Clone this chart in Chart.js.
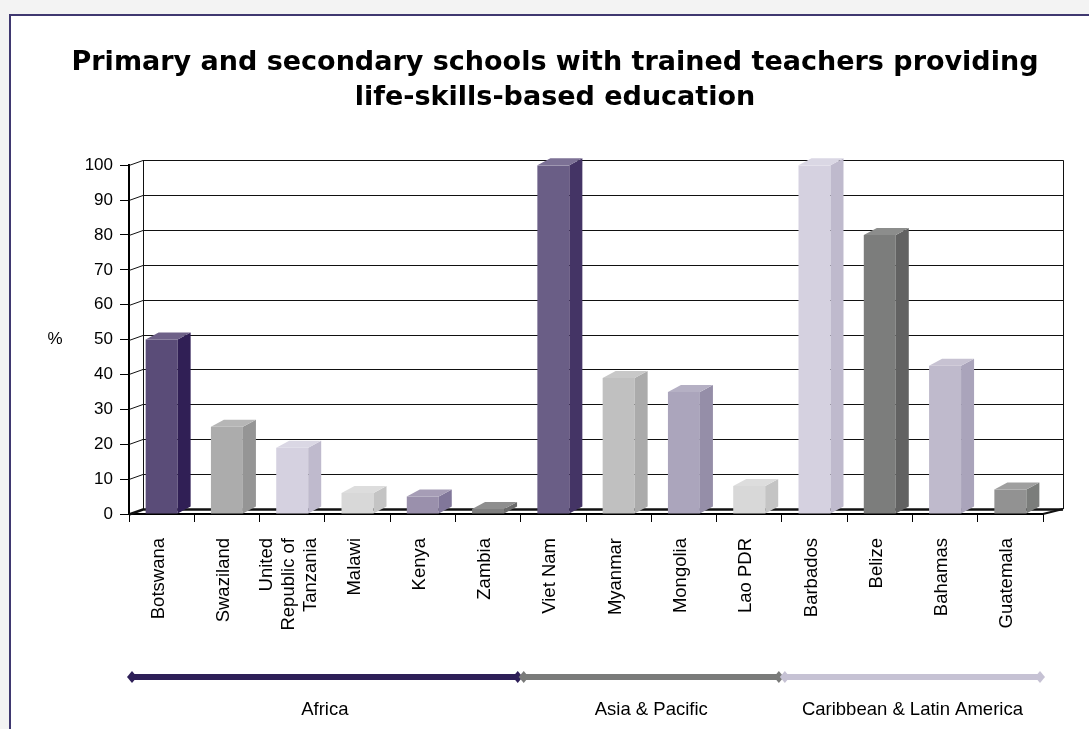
<!DOCTYPE html>
<html>
<head>
<meta charset="utf-8">
<script src="https://cdn.jsdelivr.net/npm/chart.js@4.4.1/dist/chart.umd.min.js"></script>
<style>
    body { margin: 0; background: #f3f3f3; overflow: hidden; }
    #frame { position: absolute; left: 9px; top: 14px; width: 1100px; height: 740px;
             background: #ffffff; border-left: 2px solid #3f3870; border-top: 2px solid #3f3870; }
    #wrap { position: absolute; left: 0; top: 0; width: 1089px; height: 729px; }
</style>
</head>
<body>
<div id="frame"></div>
<div id="wrap"><canvas id="schoolsChart" width="1089" height="729"></canvas></div>
<script>
// Data
const categories = ['Botswana', 'Swaziland', ['United', 'Republic of', 'Tanzania'], 'Malawi', 'Kenya', 'Zambia',
    'Viet Nam', 'Myanmar', 'Mongolia', 'Lao PDR', 'Barbados', 'Belize', 'Bahamas', 'Guatemala'];
const percentValues = [50, 25, 19, 6, 5, 1.4, 100, 39, 35, 8, 100, 80, 42.5, 7];
const yMin = 0;
const yMax = 100;
const yStep = 10;

// Region bands under the axis (index of first and last country)
const regionNames = ['Africa', 'Asia & Pacific', 'Caribbean & Latin America'];
const regionFirst = [0, 6, 10];
const regionLast = [5, 9, 13];

const titleLines = ['Primary and secondary schools with trained teachers providing', 'life-skills-based education'];

// Styles
const frontColors = ['#5a4c78', '#acacac', '#d5d1e0', '#d8d8d8', '#9a90ac', '#7f7f7f', '#6a5e86',
    '#c0c0c0', '#aba5bc', '#d8d8d8', '#d5d1e0', '#7c7d7c', '#bfbacc', '#929292'];
const sideColors = ['#301f55', '#959595', '#bfbacd', '#c4c4c4', '#81779a', '#6a6a6a', '#443465',
    '#ababab', '#958ea8', '#c4c4c4', '#bfbacd', '#626262', '#aaa4bb', '#7b7d7b'];
const regionColors = ['#2e1f58', '#7a7b7a', '#c6c2d4'];

const WALL_DX_LEFT = 14, WALL_DX_RIGHT = 20, WALL_DY = 5;
const BAR_DX = 13, BAR_DY = 7;
const LABEL_FONT = '18.5px "Liberation Sans", Arial, sans-serif';

function lighten(hex, k) {
    const n = parseInt(hex.slice(1), 16);
    const c = [(n >> 16) & 255, (n >> 8) & 255, n & 255].map(v => Math.round(v + (255 - v) * k));
    return `rgb(${c[0]},${c[1]},${c[2]})`;
}

// Back wall, floor and grid lines (behind the bars), bar sides/tops, labels
const wallPlugin = {
    id: 'wall3d',
    beforeDatasetsDraw(chart) {
        const { ctx, chartArea: a, scales: { y } } = chart;
        ctx.save();
        ctx.strokeStyle = '#111';
        for (let v = yMin; v <= yMax; v += yStep) {
            const yf = Math.round(y.getPixelForValue(v)) + 0.5;
            const yb = yf - WALL_DY;
            ctx.lineWidth = v === yMin ? 2.5 : 1;
            ctx.beginPath();
            ctx.moveTo(a.left, yf);
            ctx.lineTo(a.left + WALL_DX_LEFT, yb);
            ctx.lineTo(a.right + WALL_DX_RIGHT, yb);
            ctx.stroke();
        }
        ctx.lineWidth = 1;
        const top = y.getPixelForValue(yMax) - WALL_DY;
        const bot = y.getPixelForValue(yMin) - WALL_DY;
        ctx.beginPath();
        ctx.moveTo(a.left + WALL_DX_LEFT + 0.5, top);
        ctx.lineTo(a.left + WALL_DX_LEFT + 0.5, bot);
        ctx.moveTo(a.right + WALL_DX_RIGHT + 0.5, top);
        ctx.lineTo(a.right + WALL_DX_RIGHT + 0.5, bot);
        ctx.stroke();
        ctx.lineWidth = 2;
        ctx.beginPath();
        ctx.moveTo(a.right, a.bottom);
        ctx.lineTo(a.right + WALL_DX_RIGHT, a.bottom - WALL_DY);
        ctx.stroke();
        ctx.restore();
    },
    afterDatasetsDraw(chart) {
        const { ctx } = chart;
        const meta = chart.getDatasetMeta(0);
        ctx.save();
        meta.data.forEach((bar, i) => {
            const p = bar.getProps(['x', 'y', 'base', 'width'], true);
            const l = p.x - p.width / 2, r = p.x + p.width / 2;
            // side face
            ctx.fillStyle = sideColors[i];
            ctx.beginPath();
            ctx.moveTo(r, p.y);
            ctx.lineTo(r + BAR_DX, p.y - BAR_DY);
            ctx.lineTo(r + BAR_DX, p.base - BAR_DY);
            ctx.lineTo(r, p.base);
            ctx.closePath();
            ctx.fill();
            // top face
            ctx.fillStyle = lighten(frontColors[i], 0.12);
            ctx.beginPath();
            ctx.moveTo(l, p.y);
            ctx.lineTo(l + BAR_DX, p.y - BAR_DY);
            ctx.lineTo(r + BAR_DX, p.y - BAR_DY);
            ctx.lineTo(r, p.y);
            ctx.closePath();
            ctx.fill();
        });
        ctx.restore();
    },
    afterDraw(chart) {
        const { ctx, chartArea: a, scales: { x } } = chart;
        ctx.save();
        // y axis unit label
        ctx.fillStyle = '#000';
        ctx.font = '17px "Liberation Sans", Arial, sans-serif';
        ctx.textAlign = 'center';
        ctx.textBaseline = 'middle';
        ctx.fillText('%', 55, (a.top + a.bottom) / 2);

        // rotated category labels, multi-line ones centred on their category
        ctx.font = LABEL_FONT;
        const lh = 22;
        categories.forEach((cat, i) => {
            const lines = Array.isArray(cat) ? cat : [cat];
            ctx.save();
            ctx.translate(x.getPixelForValue(i) - 3, a.bottom + 24);
            ctx.rotate(-Math.PI / 2);
            ctx.textAlign = 'right';
            ctx.textBaseline = 'middle';
            lines.forEach((line, j) => ctx.fillText(line, 0, (j - (lines.length - 1) / 2) * lh));
            ctx.restore();
        });

        // region bands
        const step = (x.right - x.left) / categories.length;
        const lineY = a.bottom + 163;
        const labelY = a.bottom + 196;
        ctx.textAlign = 'center';
        ctx.textBaseline = 'middle';
        regionNames.forEach((name, i) => {
            const x0 = x.getPixelForValue(regionFirst[i]) - step / 2;
            const x1 = x.getPixelForValue(regionLast[i]) + step / 2;
            ctx.strokeStyle = regionColors[i];
            ctx.fillStyle = regionColors[i];
            ctx.lineWidth = 6;
            ctx.beginPath();
            ctx.moveTo(x0 + 3, lineY);
            ctx.lineTo(x1 - 3, lineY);
            ctx.stroke();
            [x0 + 3, x1 - 3].forEach(cx => {
                ctx.beginPath();
                ctx.moveTo(cx - 5, lineY);
                ctx.lineTo(cx, lineY - 6);
                ctx.lineTo(cx + 5, lineY);
                ctx.lineTo(cx, lineY + 6);
                ctx.closePath();
                ctx.fill();
            });
            ctx.fillStyle = '#000';
            ctx.font = LABEL_FONT;
            ctx.fillText(name, (x0 + x1) / 2, labelY);
        });
        ctx.restore();
    }
};

Chart.defaults.font.family = '"Liberation Sans", Arial, sans-serif';
Chart.defaults.color = '#000';

const ctx = document.getElementById('schoolsChart').getContext('2d');
const chart = new Chart(ctx, {
    type: 'bar',
    data: {
        labels: categories,
        datasets: [{
            label: '%',
            data: percentValues,
            backgroundColor: frontColors,
            borderWidth: 0,
            barPercentage: 0.49,
            categoryPercentage: 1
        }]
    },
    options: {
        responsive: false,
        animation: false,
        devicePixelRatio: 1,
        layout: { padding: { left: 67, right: 46, top: 0, bottom: 0 } },
        plugins: {
            legend: { display: false },
            tooltip: { enabled: false },
            title: {
                display: true,
                text: titleLines,
                color: '#000',
                font: { family: '"DejaVu Sans", sans-serif', weight: 'bold', size: 27, lineHeight: 1.3 },
                padding: { top: 45, bottom: 50 }
            }
        },
        scales: {
            x: {
                grid: { display: true, drawOnChartArea: false, drawTicks: true, tickLength: 8, color: '#000', offset: true },
                border: { display: true, color: '#000', width: 2 },
                ticks: { display: false, autoSkip: false },
                afterFit(scale) { scale.height = 215; }
            },
            y: {
                min: yMin,
                max: yMax,
                grid: { display: true, drawOnChartArea: false, drawTicks: true, tickLength: 9, color: '#000' },
                border: { display: true, color: '#000', width: 2 },
                ticks: { stepSize: yStep, padding: 7, font: { size: 17 }, color: '#000' },
                afterFit(scale) { scale.width = 62; }
            }
        }
    },
    plugins: [wallPlugin]
});
</script>
</body>
</html>
